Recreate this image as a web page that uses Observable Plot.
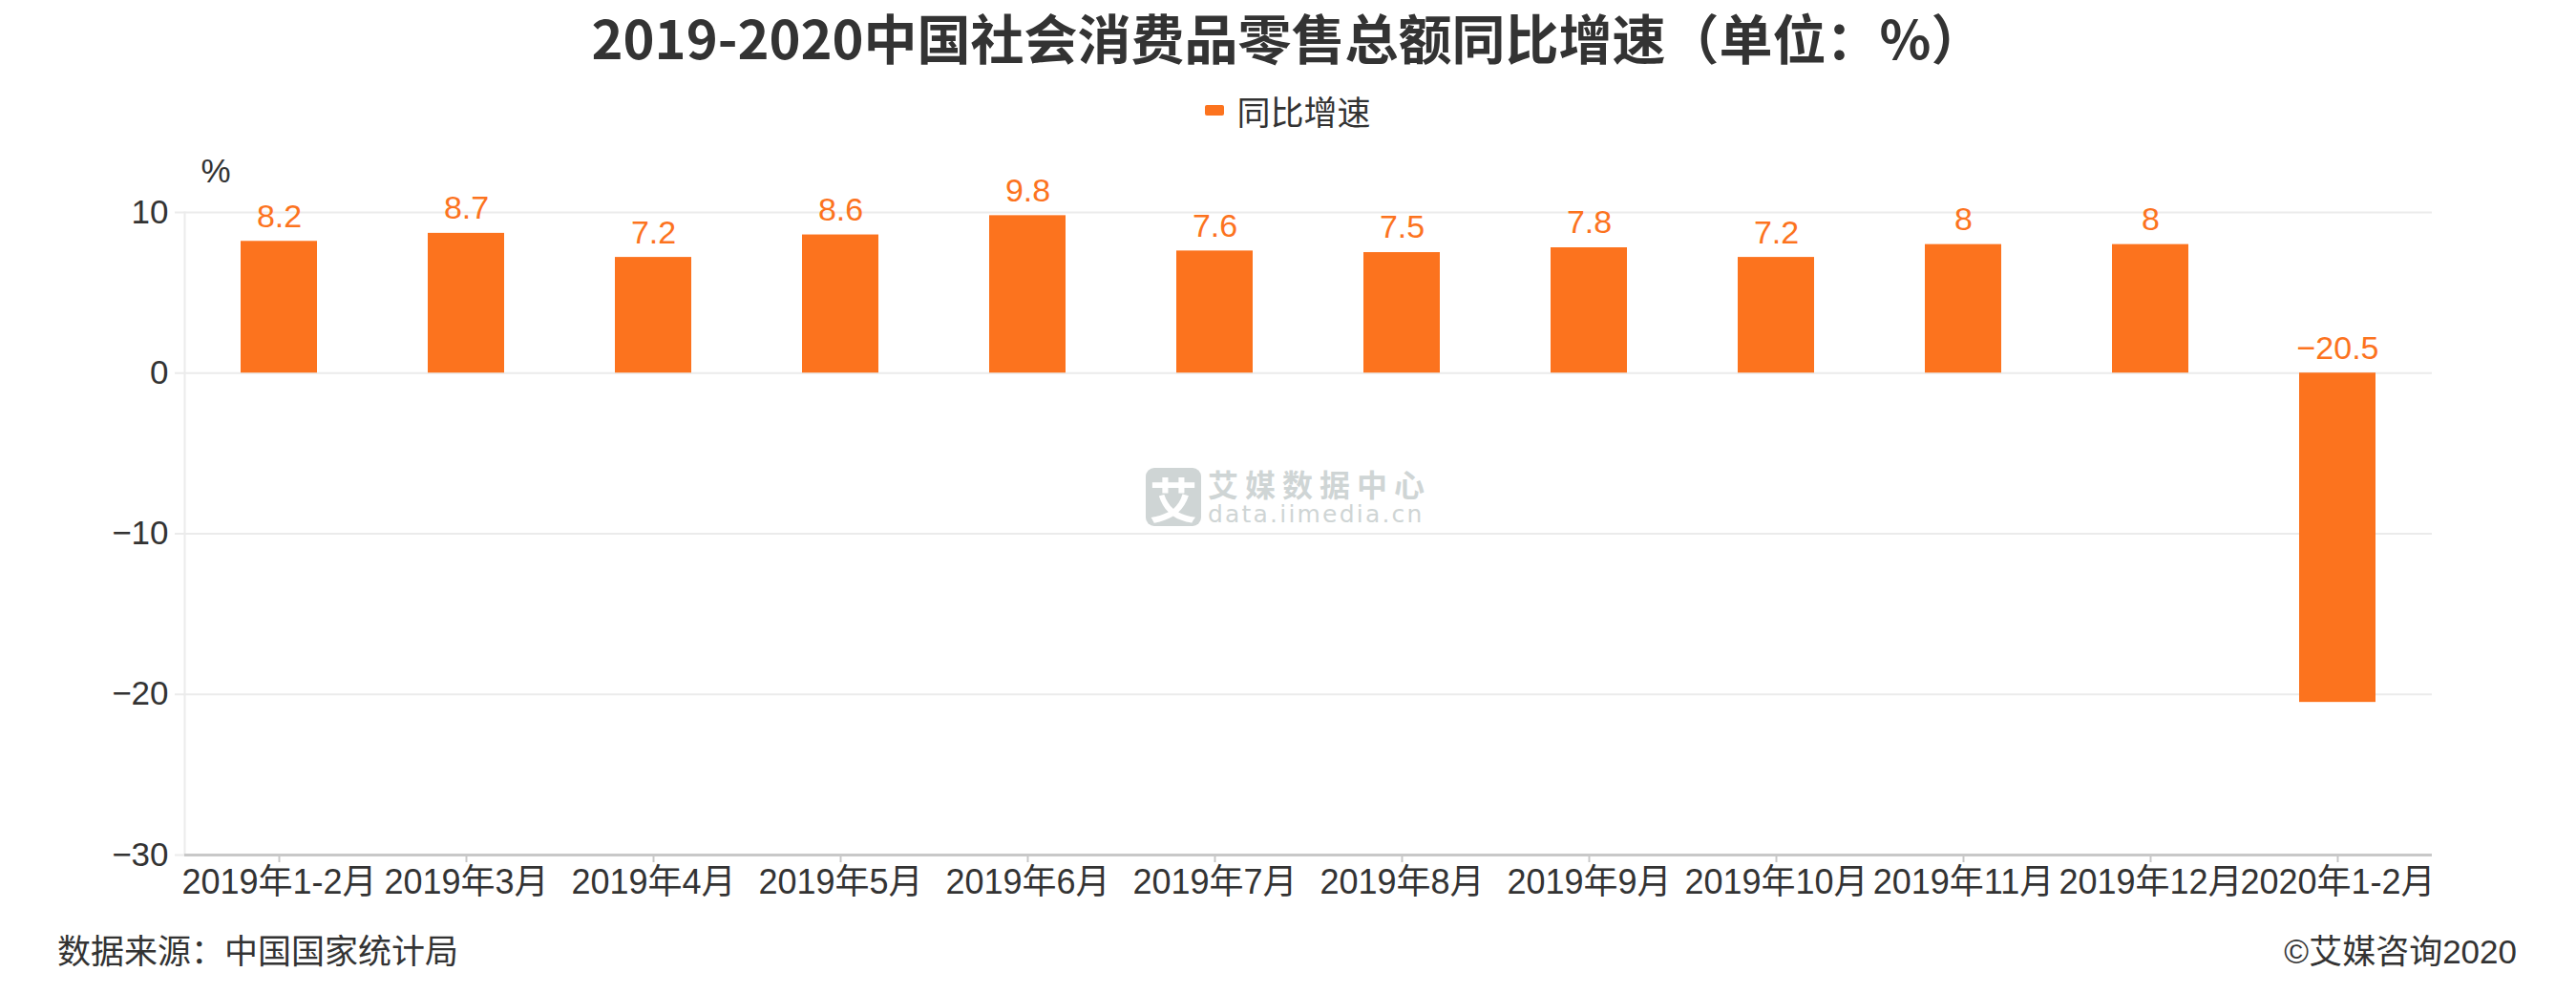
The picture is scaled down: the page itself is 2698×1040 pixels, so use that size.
<!DOCTYPE html>
<html>
<head>
<meta charset="utf-8">
<script src="https://cdn.jsdelivr.net/npm/d3@7"></script>
<script src="https://cdn.jsdelivr.net/npm/@observablehq/plot@0.6"></script>
<style>
  html, body { margin: 0; padding: 0; background: #fff; }
  body { width: 2698px; height: 1040px; position: relative; overflow: hidden;
         font-family: "Liberation Sans", "Noto Sans CJK SC", sans-serif; color: #333; }
  #title { height: 76px; line-height: 76px; text-align: center; font-size: 56px; font-weight: bold;
           font-family: "Noto Sans CJK SC", sans-serif; color: #333; }
  #legend { height: 78px; display: flex; align-items: center; justify-content: center; font-size: 35px; }
  #legend .sw { width: 20px; height: 11px; background: #fc731e; border-radius: 2px; margin-right: 13px; }
  #legend span.t { font-family: "Noto Sans CJK SC", sans-serif; }
  #chart { height: 806px; }
  #footer { height: 80px; position: relative; font-size: 35px; font-family: "Liberation Sans", "Noto Sans CJK SC", sans-serif; }
  #footer .src { position: absolute; left: 60px; top: 8px; }
  #footer .cp { position: absolute; right: 62px; top: 8px; }
  #wm { position: absolute; left: 1200px; top: 489px; display: flex; align-items: center; color: #cfd5d5; }
  #wm .icon { width: 58px; height: 61px; background: #cfd5d5; border-radius: 9px; color: #fff;
              font-family: "Noto Sans CJK SC", sans-serif; font-weight: bold; font-size: 50px;
              display: flex; align-items: center; justify-content: center; }
  #wm .txt { margin-left: 7px; display: flex; flex-direction: column; }
  #wm .cn { font-family: "Noto Sans CJK SC", sans-serif; font-weight: bold; font-size: 32px; letter-spacing: 7px; line-height: 34px; }
  #wm .en { font-family: "DejaVu Sans", sans-serif; font-size: 25px; letter-spacing: 2.2px; line-height: 26px; margin-top: 3px; }
</style>
</head>
<body>
<div id="title">2019-2020中国社会消费品零售总额同比增速（单位：%）</div>
<div id="legend"><div class="sw"></div><span class="t">同比增速</span></div>
<div id="chart"></div>
<div id="footer"><div class="src">数据来源：中国国家统计局</div><div class="cp">©艾媒咨询2020</div></div>
<div id="wm"><div class="icon">艾</div><div class="txt"><div class="cn">艾媒数据中心</div><div class="en">data.iimedia.cn</div></div></div>
<script>
const categories = ["2019年1-2月","2019年3月","2019年4月","2019年5月","2019年6月","2019年7月","2019年8月","2019年9月","2019年10月","2019年11月","2019年12月","2020年1-2月"];
const values = [8.2, 8.7, 7.2, 8.6, 9.8, 7.6, 7.5, 7.8, 7.2, 8, 8, -20.5];
const yTicks = [-30, -20, -10, 0, 10];
const unitLabel = ["%"];

const data = categories.map((c, i) => ({month: c, value: values[i]}));
const orange = "#fc731e";
const fmt = d3.format("");

const marks = [
  Plot.gridY(yTicks, {stroke: "#ebebeb", strokeOpacity: 1, strokeWidth: 2}),
  Plot.axisY({ticks: yTicks, tickSize: 10, tickPadding: 7, stroke: "#ebebeb", strokeWidth: 2, fill: "#333", fontSize: 35, label: null, tickFormat: d3.format("d")}),
  Plot.barY(data, {x: "month", y: "value", fill: orange}),
  Plot.ruleY([-30], {stroke: "#c8c8c8", strokeWidth: 3}),
  Plot.axisX({tickSize: 8, tickPadding: 7, stroke: "#c8c8c8", strokeWidth: 2, fill: "#333", fontSize: 36, label: null}),
  Plot.text(data, {x: "month", y: d => Math.max(0, d.value), text: d => fmt(d.value), dy: -26, lineAnchor: "middle", fill: orange, fontSize: 34}),
  Plot.text(unitLabel, {frameAnchor: "top-left", dx: 17, dy: -56, fontSize: 35, fill: "#333"})
];
try { marks.splice(1, 0, Plot.frame({anchor: "left", stroke: "#ebebeb", strokeWidth: 2})); } catch (e) {}

const chart = Plot.plot({
  width: 2698,
  height: 806,
  marginTop: 68,
  marginBottom: 65,
  marginLeft: 193,
  marginRight: 151,
  style: {fontFamily: '"Liberation Sans", "Noto Sans CJK SC", sans-serif', fontSize: "34px", color: "#333", background: "white", overflow: "visible"},
  x: {domain: categories, paddingInner: 0.59, paddingOuter: 0.295, label: null},
  y: {domain: [-30, 10], label: null},
  marks
});
document.getElementById("chart").appendChild(chart);
</script>
</body>
</html>
